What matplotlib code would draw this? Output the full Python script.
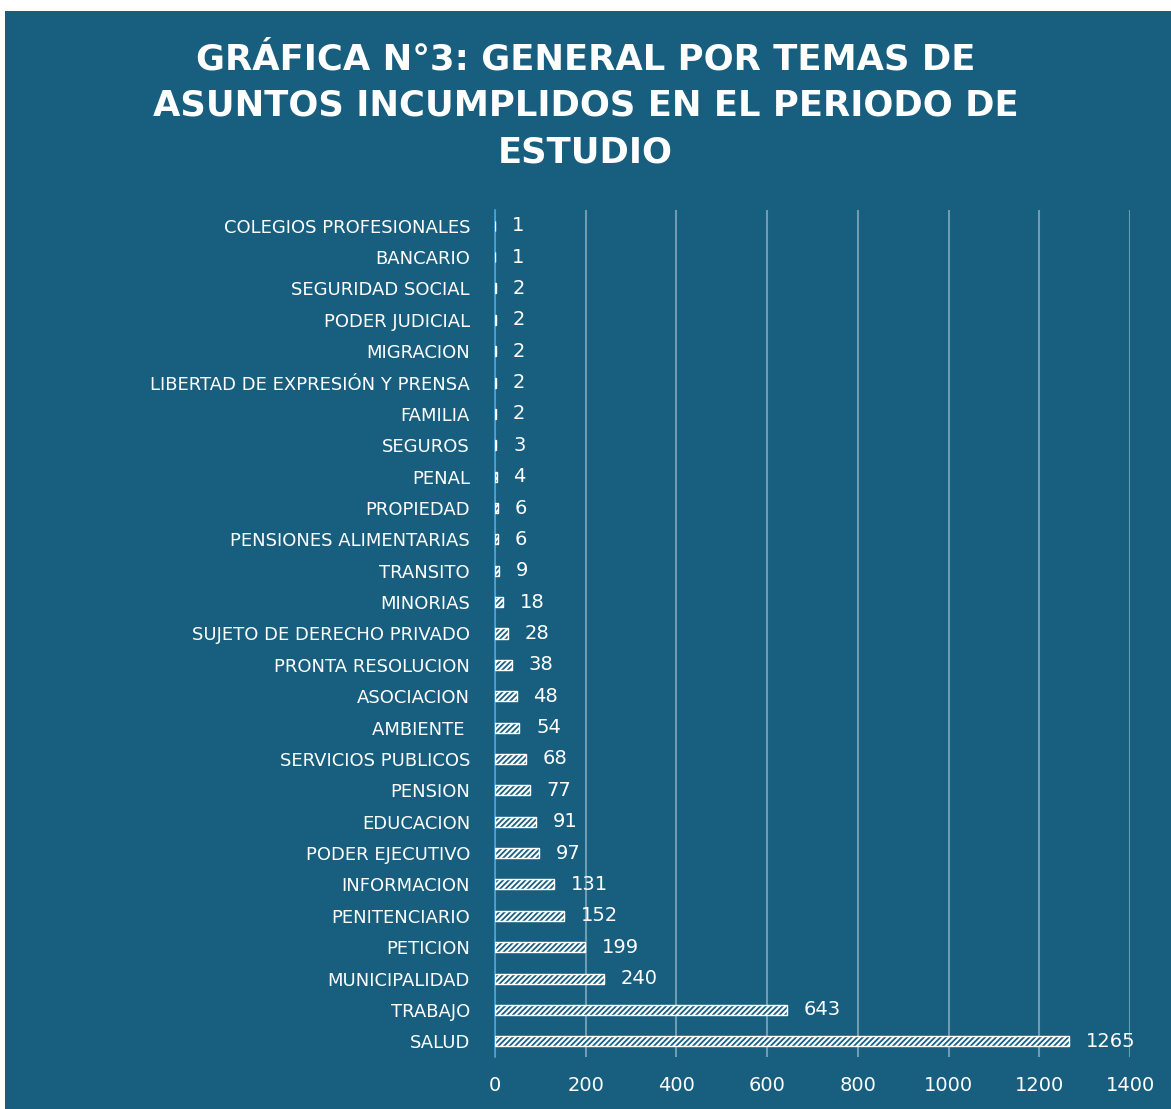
import matplotlib
matplotlib.use("Agg")
import matplotlib.pyplot as plt
from matplotlib.patches import Rectangle

categories = ["COLEGIOS PROFESIONALES", "BANCARIO", "SEGURIDAD SOCIAL", "PODER JUDICIAL",
              "MIGRACION", "LIBERTAD DE EXPRESIÓN Y PRENSA", "FAMILIA", "SEGUROS", "PENAL",
              "PROPIEDAD", "PENSIONES ALIMENTARIAS", "TRANSITO", "MINORIAS",
              "SUJETO DE DERECHO PRIVADO", "PRONTA RESOLUCION", "ASOCIACION", "AMBIENTE ",
              "SERVICIOS PUBLICOS", "PENSION", "EDUCACION", "PODER EJECUTIVO", "INFORMACION",
              "PENITENCIARIO", "PETICION", "MUNICIPALIDAD", "TRABAJO", "SALUD"]
values = [1, 1, 2, 2, 2, 2, 2, 3, 4, 6, 6, 9, 18, 28, 38, 48, 54, 68, 77, 91, 97, 131,
          152, 199, 240, 643, 1265]
xticks = [0, 200, 400, 600, 800, 1000, 1200, 1400]
title = "GRÁFICA N°3: GENERAL POR TEMAS DE\nASUNTOS INCUMPLIDOS EN EL PERIODO DE\nESTUDIO"

BG = "#175e7f"
W, H = 1171, 1109
plt.rcParams["hatch.linewidth"] = 1.3
fig = plt.figure(figsize=(W / 100, H / 100), dpi=100, facecolor="white")
fig.patches.append(Rectangle((5 / W, 0), 1 - 5 / W, 1 - 11 / H, transform=fig.transFigure,
                             facecolor=BG, edgecolor="none", zorder=-10))

ax = fig.add_axes([495 / W, 1 - 1057 / H, (1130 - 495) / W, (1057 - 210) / H])
ax.set_facecolor(BG)
ax.patch.set_alpha(0)

y = list(range(len(categories)))
ax.barh(y, values, height=0.32, color="white", edgecolor=BG, linewidth=0,
        hatch="//////", zorder=3)
ax.barh(y, values, height=0.32, fill=False, edgecolor="white", linewidth=1.0, zorder=4)
for yi, v in zip(y, values):
    ax.annotate(str(v), (v, yi), xytext=(12, 0), textcoords="offset points",
                ha="left", va="center", color="white", fontsize=14, family="DejaVu Sans")

ax.set_ylim(len(categories) - 0.5, -0.5)
ax.set_xlim(0, 1400)
ax.set_xticks(xticks)
ax.set_xticklabels([str(t) for t in xticks], color="white", fontsize=14)
ax.set_yticks(y)
ax.set_yticklabels(categories, color="white", fontsize=13)
ax.tick_params(axis="both", length=0)
ax.tick_params(axis="y", pad=18)
ax.tick_params(axis="x", pad=14)
for s in ["top", "right", "bottom"]:
    ax.spines[s].set_visible(False)
ax.spines["left"].set_color("#4aa3d8")
ax.spines["left"].set_linewidth(1.2)
ax.grid(axis="x", color="#6f9bb3", linewidth=1.5, zorder=1)
ax.set_axisbelow(True)

fig.text(0.5, 1 - 106 / H, title, ha="center", va="center", color="white",
         fontsize=25.5, fontweight="bold", family="DejaVu Sans", linespacing=1.45)

fig.savefig("out.png", dpi=100, facecolor="white")
